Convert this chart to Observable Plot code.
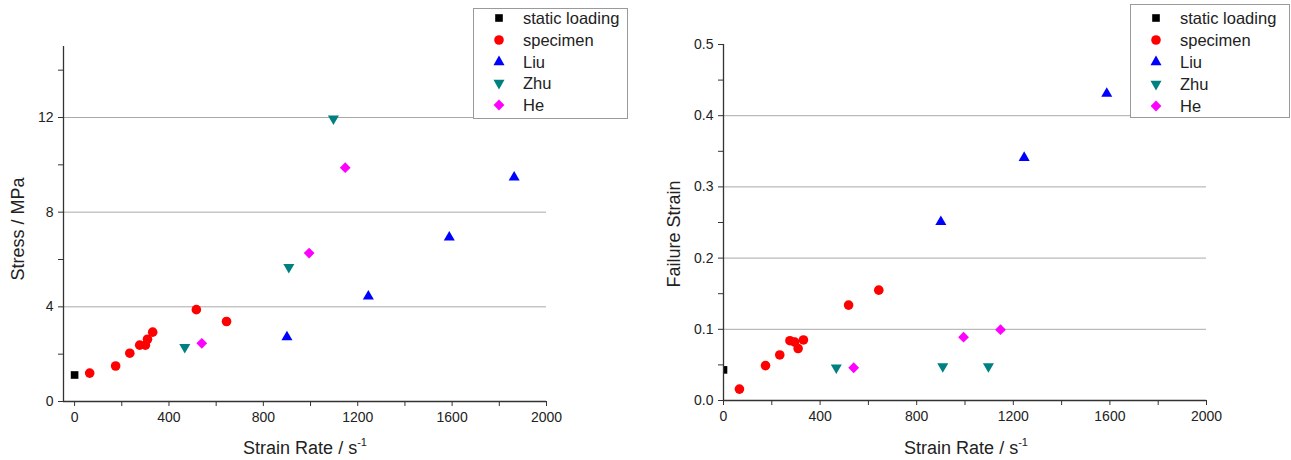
<!DOCTYPE html>
<html>
<head>
<meta charset="utf-8">
<script src="https://cdn.jsdelivr.net/npm/d3@7"></script>
<script src="https://cdn.jsdelivr.net/npm/@observablehq/plot@0.6"></script>
<style>
  body { margin: 0; background: #fff; }
  #wrap { position: relative; width: 1291px; height: 460px; overflow: hidden;
          font-family: "Liberation Sans", Arial, sans-serif; color: #222; background: #fff; }
  .plot { position: absolute; top: 0; }
  .atitle { position: absolute; font-size: 18px; white-space: nowrap; color: #222; line-height: 1; }
  .atitle sup { font-size: 11px; vertical-align: baseline; position: relative; top: -8px; }
  .legend { position: absolute; background: #fff; border: 1px solid #9a9a9a; box-sizing: border-box; }
  .legend .row { position: absolute; left: 0; width: 100%; height: 20px; }
  .legend .row svg { position: absolute; top: 0; }
  .legend .row span { position: absolute; top: 0; line-height: 20px; font-size: 16.5px; color: #222; white-space: nowrap; }
</style>
</head>
<body>
<div id="wrap"></div>
<script>
// ---------------- data ----------------
const seriesNames = ["static loading", "specimen", "Liu", "Zhu", "He"];

const staticRate = [0];
const staticStress = [1.12];
const staticStrain = [0.043];

const specimenRate = [64, 174, 234, 276, 300, 309, 331, 516, 644];
const specimenStress = [1.2, 1.5, 2.04, 2.38, 2.38, 2.63, 2.93, 3.88, 3.38];
const specimenStrainRate = [66, 174, 233, 275, 295, 309, 331, 518, 643];
const specimenStrain = [0.016, 0.049, 0.064, 0.084, 0.082, 0.073, 0.085, 0.134, 0.155];

const liuRate = [900, 1245, 1588, 1863];
const liuStress = [2.72, 4.44, 6.94, 9.47];
const liuStrainRate = [900, 1245, 1587];
const liuStrain = [0.251, 0.341, 0.431];

const zhuRate = [467, 908, 1097];
const zhuStress = [2.3, 5.68, 11.95];
const zhuStrain = [0.046, 0.048, 0.048];

const heRate = [539, 994, 1147];
const heStress = [2.46, 6.27, 9.88];
const heStrain = [0.046, 0.089, 0.0995];

const rateTicks = [0, 400, 800, 1200, 1600, 2000];
const rateMinor = [200, 600, 1000, 1400, 1800];
const stressTicks = [0, 4, 8, 12];
const stressMinor = [2, 6, 10, 14];
const stressGrid = [4, 8, 12];
const strainTicks = [0, 0.1, 0.2, 0.3, 0.4, 0.5];
const strainMinor = [0.05, 0.15, 0.25, 0.35, 0.45];
const strainGrid = [0.1, 0.2, 0.3, 0.4];

// ---------------- styles ----------------
const colors = {"static loading": "#000000", "specimen": "#ff0000", "Liu": "#0000ff", "Zhu": "#008080", "He": "#ff00ff"};
const sym = {
  "static loading": {symbol: "square", r: 4.3, rotate: 0},
  "specimen": {symbol: "circle", r: 4.8, rotate: 0},
  "Liu": {symbol: "triangle", r: 4.1, rotate: 0},
  "Zhu": {symbol: "triangle", r: 4.1, rotate: 180},
  "He": {symbol: "square", r: 4.3, rotate: 45}
};
const zip = (xs, ys) => xs.map((x, i) => ({x, y: ys[i]}));
const dots = (name, data, extra = {}) =>
  Plot.dot(data, {x: "x", y: "y", fill: colors[name], stroke: "none",
    symbol: sym[name].symbol, r: sym[name].r, rotate: sym[name].rotate, ...extra});

const axisColor = "#333";
const gridColor = "#a9a9a9";
const fontStyle = {fontFamily: "'Liberation Sans', Arial, sans-serif", fontSize: "14px", color: "#222", background: "transparent", overflow: "visible"};

// ---------------- left chart ----------------
const leftX0 = -47;
const left = Plot.plot({
  width: 640, height: 460,
  marginLeft: 63, marginRight: 94, marginTop: 46, marginBottom: 59,
  x: {domain: [leftX0, 2000]},
  y: {domain: [0, 15]},
  style: fontStyle,
  marks: [
    Plot.ruleY(stressGrid, {stroke: gridColor, strokeWidth: 1}),
    Plot.axisX({ticks: rateTicks, tickSize: 5, tickPadding: 6, label: null, stroke: axisColor, fill: "#222", tickFormat: d => String(d)}),
    Plot.axisX({ticks: rateMinor, tickSize: 5, label: null, stroke: axisColor, tickFormat: () => ""}),
    Plot.axisY({ticks: stressTicks, tickSize: 5, tickPadding: 5, label: null, stroke: axisColor, fill: "#222", tickFormat: d => String(d)}),
    Plot.axisY({ticks: stressMinor, tickSize: 5, label: null, stroke: axisColor, tickFormat: () => ""}),
    Plot.ruleX([leftX0], {stroke: axisColor, strokeWidth: 1.3}),
    Plot.ruleY([0], {stroke: axisColor, strokeWidth: 1.3}),
    dots("static loading", zip(staticRate, staticStress)),
    dots("specimen", zip(specimenRate, specimenStress)),
    dots("Liu", zip(liuRate, liuStress)),
    dots("Zhu", zip(zhuRate, zhuStress)),
    dots("He", zip(heRate, heStress))
  ]
});
left.classList.add("plot");
left.style.left = "0px";

// ---------------- right chart ----------------
const right = Plot.plot({
  width: 651, height: 460,
  marginLeft: 83, marginRight: 85, marginTop: 44, marginBottom: 60,
  x: {domain: [0, 2000]},
  y: {domain: [0, 0.5]},
  style: fontStyle,
  marks: [
    Plot.ruleY(strainGrid, {stroke: gridColor, strokeWidth: 1}),
    Plot.axisX({ticks: rateTicks, tickSize: 5, tickPadding: 6, label: null, stroke: axisColor, fill: "#222", tickFormat: d => String(d)}),
    Plot.axisX({ticks: rateMinor, tickSize: 5, label: null, stroke: axisColor, tickFormat: () => ""}),
    Plot.axisY({ticks: strainTicks, tickSize: 5, tickPadding: 5, label: null, stroke: axisColor, fill: "#222", tickFormat: d3.format(".1f")}),
    Plot.axisY({ticks: strainMinor, tickSize: 5, label: null, stroke: axisColor, tickFormat: () => ""}),
    dots("static loading", zip(staticRate, staticStrain), {clip: true}),
    dots("specimen", zip(specimenStrainRate, specimenStrain)),
    dots("Liu", zip(liuStrainRate, liuStrain)),
    dots("Zhu", zip(zhuRate, zhuStrain)),
    dots("He", zip(heRate, heStrain)),
    Plot.ruleX([0], {stroke: axisColor, strokeWidth: 1.3}),
    Plot.ruleY([0], {stroke: axisColor, strokeWidth: 1.3})
  ]
});
right.classList.add("plot");
right.style.left = "640px";

const wrap = document.getElementById("wrap");
wrap.appendChild(left);
wrap.appendChild(right);

// ---------------- axis titles ----------------
function title(html, x, y, rotate) {
  const d = document.createElement("div");
  d.className = "atitle";
  d.innerHTML = html;
  d.style.left = x + "px";
  d.style.top = y + "px";
  d.style.transform = "translate(-50%, -50%)" + (rotate ? " rotate(-90deg)" : "");
  wrap.appendChild(d);
}
title("Strain Rate / s<sup>-1</sup>", 305, 448, false);
title("Strain Rate / s<sup>-1</sup>", 966, 448, false);
title("Stress / MPa", 18, 229, true);
title("Failure Strain", 674, 234, true);

// ---------------- legends ----------------
const symbolPath = name => {
  const s = sym[name];
  const types = {circle: d3.symbolCircle, square: d3.symbolSquare, triangle: d3.symbolTriangle};
  return d3.symbol(types[s.symbol], s.r * s.r * Math.PI)();
};
function legend(x, y, w, h, rowTop, rowStep) {
  const box = document.createElement("div");
  box.className = "legend";
  Object.assign(box.style, {left: x + "px", top: y + "px", width: w + "px", height: h + "px"});
  seriesNames.forEach((name, i) => {
    const row = document.createElement("div");
    row.className = "row";
    row.style.top = (rowTop + i * rowStep - 10) + "px";
    const svg = d3.create("svg").attr("width", 20).attr("height", 20)
      .style("left", "15px");
    svg.append("path").attr("d", symbolPath(name))
      .attr("transform", `translate(10,10) rotate(${sym[name].rotate})`)
      .attr("fill", colors[name]);
    row.appendChild(svg.node());
    const t = document.createElement("span");
    t.textContent = name;
    t.style.left = "49px";
    row.appendChild(t);
    box.appendChild(row);
  });
  wrap.appendChild(box);
}
legend(473, 8, 155, 111, 9, 21.8);
legend(1130, 4, 160, 114, 13, 22);
</script>
</body>
</html>
